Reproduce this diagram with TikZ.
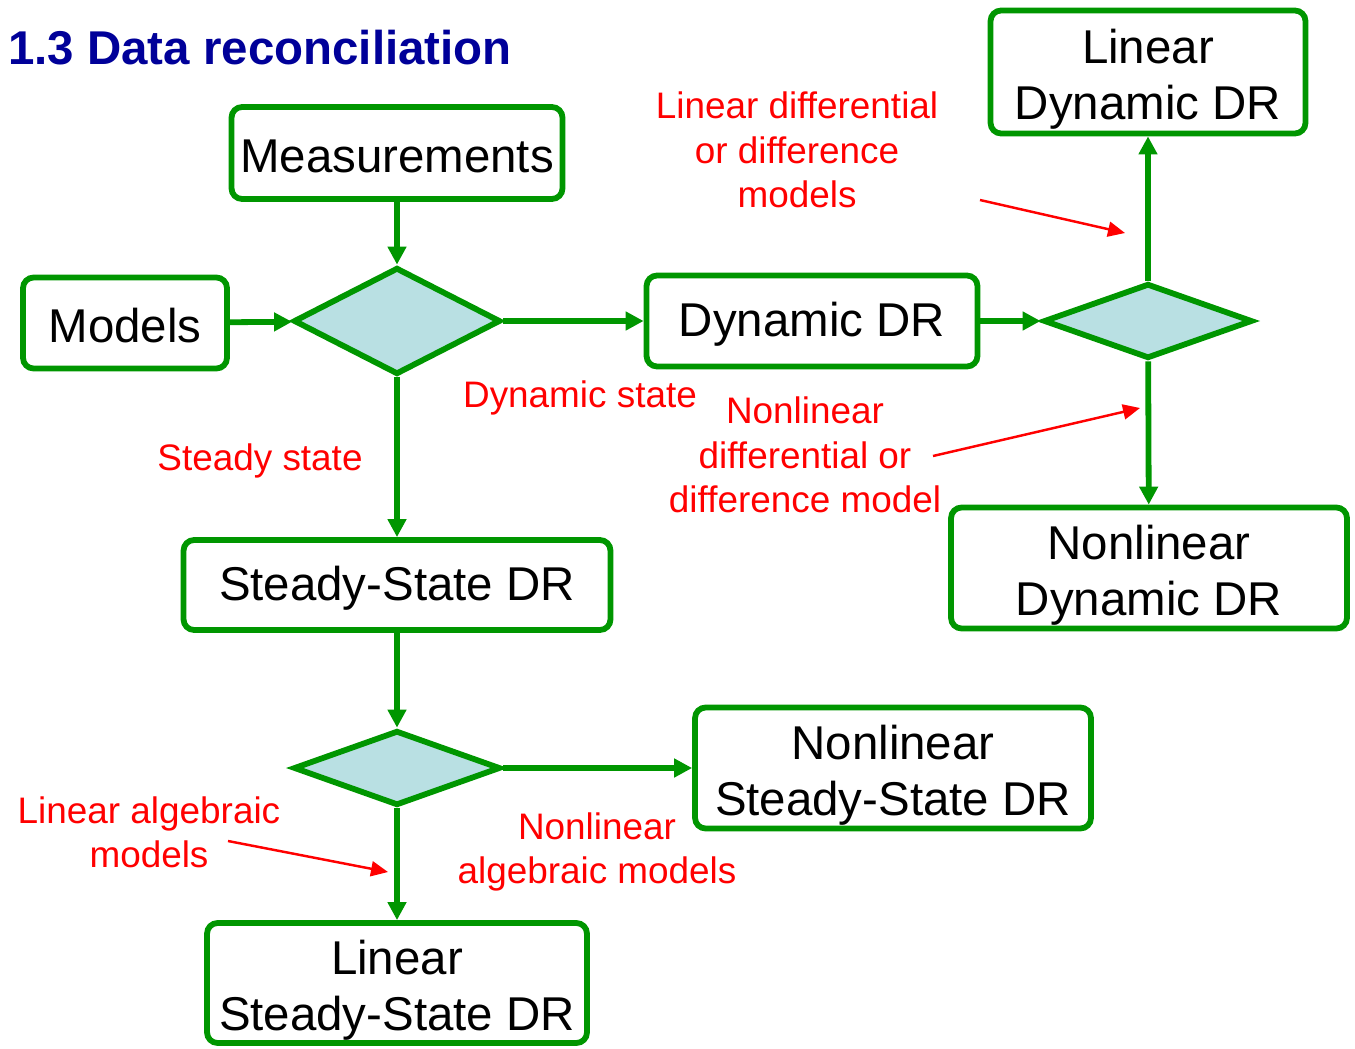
\documentclass[tikz,border=0pt]{standalone}
\usepackage{fontspec}
\setmainfont{Liberation Sans}
\usetikzlibrary{shapes.geometric,arrows.meta}
\definecolor{drgreen}{RGB}{0,150,0}
\definecolor{drfill}{RGB}{185,224,227}
\definecolor{drblue}{RGB}{0,0,153}
\newcommand{\drstrut}{\rule{0pt}{27.8pt}}

\begin{document}
\begin{tikzpicture}[x=0.02cm, y=-0.02cm,
    box/.style={draw=drgreen, line width=3.3pt, rounded corners=6pt, align=center, inner sep=0pt, font=\fontsize{27}{32.3}\selectfont, execute at begin node={\rule{0pt}{22.8pt}}},
    box2/.style={draw=drgreen, line width=3.3pt, rounded corners=6pt, align=center, inner sep=0pt, font=\fontsize{27}{32.3}\selectfont},
    choice/.style={diamond, draw=drgreen, fill=drfill, line width=3.3pt, inner sep=0pt},
    note/.style={text=red, align=center, font=\fontsize{21}{25.2}\selectfont},
    flow/.style={draw=drgreen, line width=3.3pt, -{Triangle[length=0.36cm,width=0.36cm]}},
    hint/.style={draw=red, line width=1.4pt, -{Triangle[length=0.34cm,width=0.3cm]}}]
    \useasboundingbox (0,0) rectangle (1355,1048);

    % title
    \node[anchor=west, text=drblue, font=\fontsize{27}{32}\selectfont\bfseries] (title) at (2,48) {1.3 Data reconciliation};

    % boxes
    \node[box, minimum width=6.62cm, minimum height=1.84cm] (meas) at (397,153) {Measurements};
    \node[box, minimum width=4.08cm, minimum height=1.82cm] (models) at (125,323) {Models};
    \node[box, minimum width=6.62cm, minimum height=1.82cm] (dyn) at (812,321) {Dynamic DR};
    \node[box2, minimum width=6.3cm, minimum height=2.46cm] (lindyn) at (1148,72) {\drstrut Linear\\Dynamic DR};
    \node[box2, minimum width=7.92cm, minimum height=2.42cm] (nldyn) at (1149,568) {\drstrut Nonlinear\\Dynamic DR};
    \node[box, minimum width=8.54cm, minimum height=1.8cm] (ss) at (397,585) {Steady-State DR};
    \node[box2, minimum width=7.92cm, minimum height=2.42cm] (nlss) at (893,768) {\drstrut Nonlinear\\Steady-State DR};
    \node[box2, minimum width=7.6cm, minimum height=2.4cm] (linss) at (397,983) {\drstrut Linear\\Steady-State DR};

    % decisions
    \node[choice, minimum width=4.14cm, minimum height=2.14cm] (d1) at (397,321) {};
    \node[choice, minimum width=4.18cm, minimum height=1.5cm] (d2) at (1148,321) {};
    \node[choice, minimum width=4.14cm, minimum height=1.5cm] (d3) at (397,768) {};

    % flow
    \draw[flow] (meas) -- (d1);
    \draw[flow] (models) -- (d1);
    \draw[flow] (d1) -- (dyn);
    \draw[flow] (dyn) -- (d2);
    \draw[flow] (d2) -- (lindyn);
    \draw[flow] (d2) -- (nldyn);
    \draw[flow] (d1) -- (ss);
    \draw[flow] (ss) -- (d3);
    \draw[flow] (d3) -- (nlss);
    \draw[flow] (d3) -- (linss);

    % labels
    \node[note] (ldiff) at (797,150) {Linear differential\\or difference\\models};
    \node[note] (dynstate) at (580,398) {Dynamic state};
    \node[note] (ststate) at (260,461) {Steady state};
    \node[note] (nldiff) at (805,455) {Nonlinear\\differential or\\difference model};
    \node[note] (lalg) at (149,832) {Linear algebraic\\models};
    \node[note] (nlalg) at (597,852) {Nonlinear\\algebraic models};

    % pointers
    \coordinate (ldiffTail) at (980,200);
    \coordinate (ldiffHead) at (1125,233);
    \coordinate (nldiffTail) at (933,456);
    \coordinate (nldiffHead) at (1140,408);
    \coordinate (lalgTail) at (228,841);
    \coordinate (lalgHead) at (388,872);
    \draw[hint] (ldiffTail) -- (ldiffHead);
    \draw[hint] (nldiffTail) -- (nldiffHead);
    \draw[hint] (lalgTail) -- (lalgHead);
\end{tikzpicture}
\end{document}
